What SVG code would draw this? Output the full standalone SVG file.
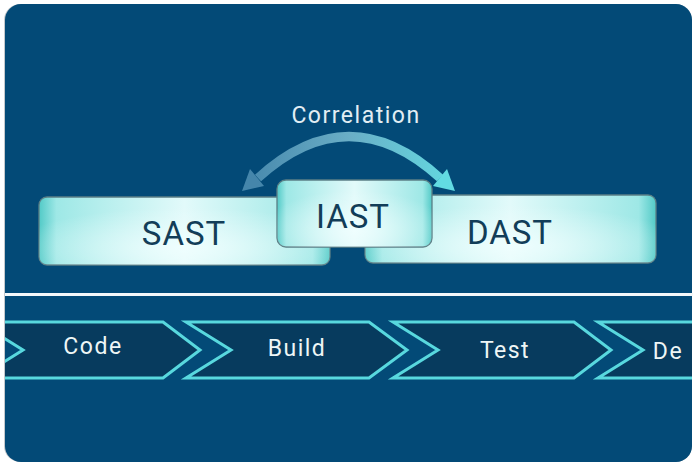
<svg xmlns="http://www.w3.org/2000/svg" width="693" height="463" viewBox="0 0 693 463">
<defs>
<style>
.box{stroke:#5b7f86;stroke-width:1.3}
.boxlbl{font-family:Roboto,"Liberation Sans",sans-serif;font-size:33px;fill:#123d58;text-anchor:middle;letter-spacing:1px}
.chev{fill:#073b5e;stroke:#58d8de;stroke-width:3;stroke-linejoin:miter}
.chevlbl{font-family:Roboto,"Liberation Sans",sans-serif;font-size:23px;fill:#eef6f6;text-anchor:middle;letter-spacing:1.5px}
.corr{font-family:Roboto,"Liberation Sans",sans-serif;font-size:23px;fill:#e2eef4;text-anchor:middle;letter-spacing:1.5px}
</style>
<linearGradient id="gh" x1="0" y1="0" x2="1" y2="0">
<stop offset="0" stop-color="#52cac7"/>
<stop offset="0.06" stop-color="#9ee8e6"/>
<stop offset="0.5" stop-color="#e2fafa"/>
<stop offset="0.94" stop-color="#9ee8e6"/>
<stop offset="1" stop-color="#52cac7"/>
</linearGradient>
<radialGradient id="gr" cx="0.5" cy="0.75" r="0.6">
<stop offset="0" stop-color="#f2ffff" stop-opacity="0.8"/>
<stop offset="1" stop-color="#f2ffff" stop-opacity="0"/>
</radialGradient>
<linearGradient id="garc" gradientUnits="userSpaceOnUse" x1="240" y1="0" x2="458" y2="0">
<stop offset="0" stop-color="#4586ab"/>
<stop offset="0.5" stop-color="#6aaec6"/>
<stop offset="1" stop-color="#62dbe2"/>
</linearGradient>
<clipPath id="clipmain"><rect x="5" y="4" width="687" height="458" rx="16"/></clipPath>
</defs>
<rect width="693" height="463" fill="#ffffff"/>
<rect x="4" y="4" width="688" height="458" rx="16" fill="#c4c8cc"/>
<rect id="background" x="5" y="4" width="687" height="458" rx="16" fill="#034a77"/>
<rect id="divider" x="5" y="293" width="688" height="3" fill="#f4f8fa"/>

<g id="connectors">
<path d="M 258 178 Q 349 95 440 178" fill="none" stroke="url(#garc)" stroke-width="9"/>
<polygon points="242,191 264,186 250,169" fill="#4586ab"/>
<polygon points="455,191 433,186 447,169" fill="#62dbe2"/>
</g>

<g id="correlation-label">
<text class="corr" x="356" y="123">Correlation</text>
</g>

<g id="sast">
<rect class="box" x="39" y="197" width="291" height="68" rx="8" fill="url(#gh)"/>
<rect x="39" y="197" width="291" height="68" rx="8" fill="url(#gr)"/>
<text class="boxlbl" x="184" y="245">SAST</text>
</g>
<g id="dast">
<rect class="box" x="365" y="195" width="291" height="68" rx="8" fill="url(#gh)"/>
<rect x="365" y="195" width="291" height="68" rx="8" fill="url(#gr)"/>
<text class="boxlbl" x="510" y="244">DAST</text>
</g>
<g id="iast">
<rect class="box" x="277" y="180" width="155" height="67" rx="9" fill="url(#gh)"/>
<rect x="277" y="180" width="155" height="67" rx="9" fill="url(#gr)"/>
<text class="boxlbl" x="353" y="228">IAST</text>
</g>

<g clip-path="url(#clipmain)">
<g id="code">
<polygon class="chev" points="-22,322 163,322 200,350 163,378 -22,378 23,350"/>
<text class="chevlbl" x="93" y="354">Code</text>
</g>
<g id="build">
<polygon class="chev" points="186,322 369,322 407,350 369,378 186,378 231,350"/>
<text class="chevlbl" x="297" y="356">Build</text>
</g>
<g id="test">
<polygon class="chev" points="393,322 574,322 611,350 574,378 393,378 438,350"/>
<text class="chevlbl" x="505" y="358">Test</text>
</g>
<g id="deploy">
<polygon class="chev" points="598,322 790,322 827,350 790,378 598,378 643,350"/>
<text class="chevlbl" x="668" y="359" text-anchor="start">De</text>
</g>
</g>
</svg>
